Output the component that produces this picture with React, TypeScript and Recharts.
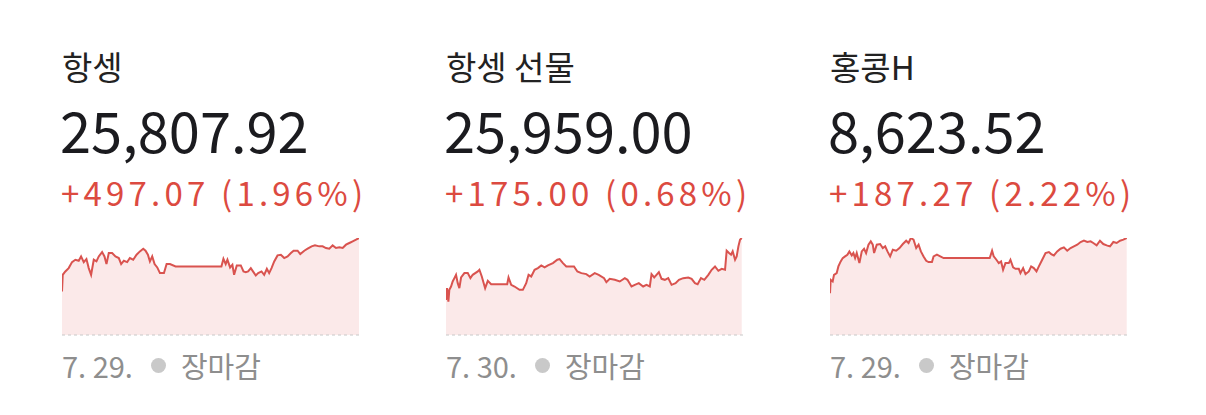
import React from "react";
import { AreaChart, Area, XAxis, YAxis, ReferenceLine } from "recharts";

// ---- Panel labels ----
const titles = ["항셍", "항셍 선물", "홍콩H"];
const prices = ["25,807.92", "25,959.00", "8,623.52"];
const changes = ["+497.07 (1.96%)", "+175.00 (0.68%)", "+187.27 (2.22%)"];
const dates = ["7. 29.", "7. 30.", "7. 29."];
const statusLabel = "장마감";

// ---- Series: minutes since session open (09:30) and index level ----
const hsTimes = [0,1,4.5,9,13.5,18,22.5,25.7,29.3,32.9,36,39.2,42.8,46.4,49.5,54,57.2,59.9,63,67.5,72,76.5,79.7,83.3,87.8,91.4,95.9,100.4,104.9,109.4,112.5,115.7,118.4,121.5,124.7,128.3,131.9,137.3,140.9,145.4,153,214.7,217.4,220.5,222.8,226.4,229.5,231.8,235.4,240.8,244.4,247.5,250.7,254.3,257.9,261,264.2,268.7,272.3,275.9,279,282.2,285.8,290.3,294.8,299.3,303.8,308.3,311.9,317.3,320.9,326.3,330.8,336.2,340.7,346.5,351,355.5,360,364.5,369,373.5,378,382.5,387,391.5,396,400];
const hsValues = [25328,25478,25508,25538,25592,25613,25604,25643,25592,25619,25538,25478,25613,25598,25643,25682,25643,25574,25673,25673,25643,25628,25574,25604,25592,25628,25613,25658,25688,25712,25694,25658,25598,25643,25574,25544,25493,25493,25574,25574,25553,25553,25622,25574,25613,25544,25568,25478,25562,25562,25508,25502,25508,25538,25502,25472,25493,25508,25478,25532,25493,25538,25598,25652,25658,25628,25643,25673,25694,25694,25664,25694,25712,25733,25742,25733,25733,25718,25712,25742,25718,25724,25718,25748,25763,25778,25793,25807.92];

const futTimes = [0,1.4,3.2,4.5,6.8,9,11.3,13.5,15.8,18,20.3,24.8,29.3,32.9,36,42.8,45,48.2,52.7,56.3,60.8,82.4,84.2,87.8,92.3,99,103.5,108,111.2,114.8,119.3,123.8,128.3,132.8,137.3,144,149.9,153,157.5,162,172.4,176.9,182.3,189,193.5,200.3,205.7,212.9,216,220.5,227.3,234,240.8,244.4,249.8,254.3,259.7,265.5,270,274.5,276.8,280.4,283.5,286.7,290.3,294.8,299.3,303.8,309.2,313.7,319.5,326.3,330.8,335.3,338.9,343.4,347.9,353.3,357.8,362.3,366.8,371.3,375.8,378,381.2,383.9,386.1,389.3,391.5,393.8,396,398.3];
const futValues = [25404,25509,25389,25494,25524,25569,25599,25629,25554,25509,25605,25644,25644,25599,25629,25659,25674,25614,25509,25575,25545,25545,25605,25539,25524,25494,25494,25554,25629,25614,25674,25689,25713,25695,25713,25734,25764,25770,25734,25704,25704,25659,25644,25635,25614,25644,25629,25599,25563,25593,25584,25569,25599,25584,25524,25539,25554,25524,25539,25524,25635,25605,25629,25653,25593,25584,25599,25539,25554,25584,25599,25605,25593,25554,25545,25599,25584,25629,25674,25704,25665,25683,25674,25845,25824,25809,25839,25764,25794,25884,25944,25959];

const hhTimes = [0,0.9,3.6,5.4,9,11.3,14.4,17.1,20.3,23.4,26.1,29.3,31.5,33.8,36,39.6,42.8,45.9,48.6,51.8,54.9,57.6,59.4,63,67.5,71.1,74.3,77.4,81,84.6,89.1,93.6,98.1,102.6,105.8,108.9,112.5,116.1,119.3,122.4,126,129.6,132.8,137.3,139.5,144,148.5,153,215.1,218.3,220.5,224.1,227.3,230.4,233.1,236.3,240.8,243,246.6,249.8,254.3,256.5,260.1,263.3,267.8,270.9,274.5,278.1,281.3,285.8,290.3,294.8,297.9,301.5,306,310.5,315,319.5,324,328.5,333,337.5,342,346.5,351,354.6,359.1,363.6,368.1,372.6,377.1,381.6,386.1,390.6,395.1,399.6];
const hhValues = [8458.5,8498.5,8493.5,8513.5,8518.5,8538.5,8553.5,8563.5,8568.5,8573.5,8583.5,8571.5,8578.5,8563.5,8578.5,8548.5,8583.5,8591.5,8578.5,8603.5,8613.5,8603.5,8578.5,8603.5,8605.5,8593.5,8598.5,8583.5,8568.5,8588.5,8585.5,8593.5,8605.5,8615.5,8608.5,8623.5,8618.5,8593.5,8603.5,8583.5,8568.5,8555.5,8551.5,8551.5,8568.5,8573.5,8568.5,8563.5,8563.5,8585.5,8568.5,8558.5,8548.5,8553.5,8528.5,8548.5,8548.5,8558.5,8535.5,8531.5,8531.5,8518.5,8533.5,8515.5,8523.5,8538.5,8533.5,8523.5,8538.5,8558.5,8578.5,8581.5,8575.5,8571.5,8583.5,8591.5,8595.5,8585.5,8593.5,8598.5,8603.5,8611.5,8615.5,8611.5,8613.5,8608.5,8601.5,8615.5,8605.5,8601.5,8598.5,8611.5,8608.5,8615.5,8618.5,8623.52];

const yDomains: [number, number][] = [
  [24938, 25808],
  [25089, 25959],
  [8333.5, 8623.52],
];

function zip(t: number[], v: number[]) {
  const n = Math.min(t.length, v.length);
  const out: { t: number; v: number }[] = [];
  for (let i = 0; i < n; i++) out.push({ t: t[i], v: v[i] });
  return out;
}

const series = [zip(hsTimes, hsValues), zip(futTimes, futValues), zip(hhTimes, hhValues)];

const FONT = '"Noto Sans CJK KR", "Noto Sans", sans-serif';
const RED = "#dc4a40";
const LINE = "#d9534f";
const FILL = "#fbe9e9";

function Panel({ idx }: { idx: number }) {
  const left = 62 + idx * 384;
  const data = series[idx];
  const dom = yDomains[idx];
  return (
    <>
      <div style={{ position: "absolute", left, top: 50, fontSize: 33, lineHeight: "33px", color: "#222", whiteSpace: "nowrap" }}>
        {titles[idx]}
      </div>
      <div style={{ position: "absolute", left: left - 2, top: 101, fontSize: 56, lineHeight: "56px", color: "#1b1b1f", whiteSpace: "nowrap" }}>
        {prices[idx]}
      </div>
      <div style={{ position: "absolute", left: left - 1, top: 176, fontSize: 33, lineHeight: "33px", color: RED, letterSpacing: 4.2, whiteSpace: "nowrap" }}>
        {changes[idx]}
      </div>
      <div style={{ position: "absolute", left: left, top: 234 }}>
        <AreaChart width={297} height={105} data={data} margin={{ top: 4, right: 0, bottom: 4, left: 0 }}>
          <XAxis dataKey="t" type="number" domain={[0, 400]} hide />
          <YAxis type="number" domain={dom} hide allowDataOverflow />
          <Area
            type="linear"
            dataKey="v"
            stroke={LINE}
            strokeWidth={2}
            fill={FILL}
            fillOpacity={1}
            isAnimationActive={false}
            dot={false}
            activeDot={false}
          />
          <ReferenceLine y={dom[0]} stroke="#c8c8c8" strokeDasharray="3 3" strokeWidth={1} />
        </AreaChart>
      </div>
      <div style={{ position: "absolute", left, top: 351, fontSize: 29, lineHeight: "29px", color: "#8e8e8e", whiteSpace: "nowrap", display: "flex", alignItems: "center" }}>
        <span>{dates[idx]}</span>
        <span style={{ display: "inline-block", width: 15, height: 15, borderRadius: 8, background: "#c9c9c9", marginLeft: 18, marginRight: 15 }} />
        <span>{statusLabel}</span>
      </div>
    </>
  );
}

export default function App() {
  return (
    <div style={{ position: "absolute", left: 0, top: 0, width: 1206, height: 415, background: "#fff", fontFamily: FONT, overflow: "hidden" }}>
      {[0, 1, 2].map((i) => (
        <Panel key={i} idx={i} />
      ))}
    </div>
  );
}
